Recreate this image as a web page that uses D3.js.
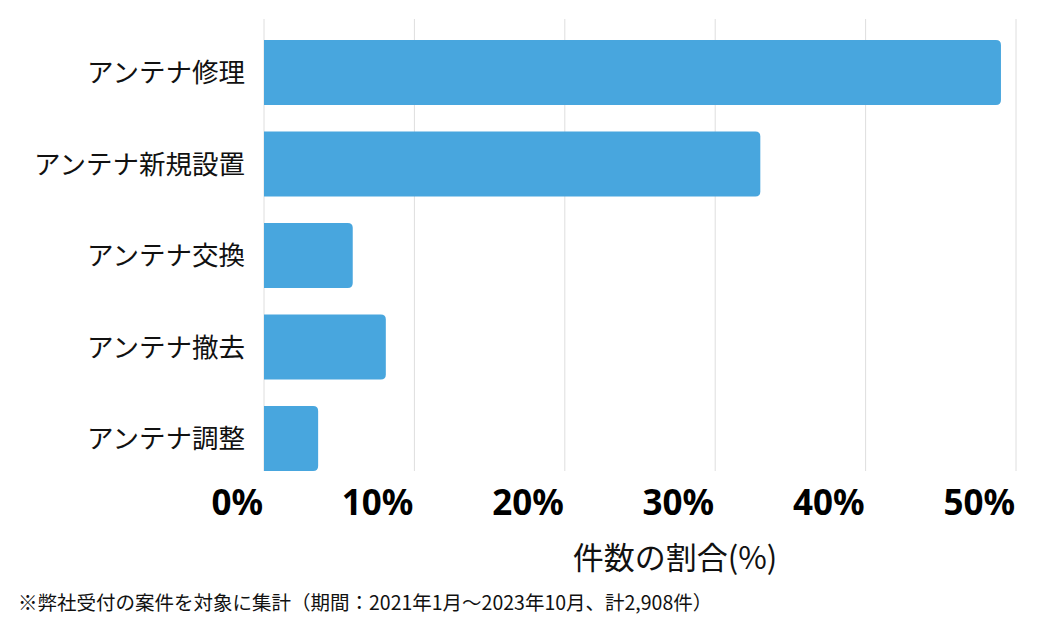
<!DOCTYPE html>
<html><head><meta charset="utf-8">
<script src="https://cdn.jsdelivr.net/npm/d3@7/dist/d3.min.js"></script>
<style>body{margin:0;background:#fff;}svg{display:block;}</style>
</head><body>
<script>
const categories = ["アンテナ修理","アンテナ新規設置","アンテナ交換","アンテナ撤去","アンテナ調整"];
const values = [49.0, 33.0, 5.9, 8.1, 3.6];
const ticks = [0,10,20,30,40,50];
const axisTitle = "件数の割合(%)";
const footnote = "※弊社受付の案件を対象に集計（期間：2021年1月～2023年10月、計2,908件）";

const W=1054,H=629;
const svg=d3.select("body").append("svg").attr("width",W).attr("height",H);
const x=d3.scaleLinear().domain([0,50]).range([264,1016]);
const y=d3.scaleBand().domain(categories).range([26.75,484.25]).paddingInner(0.29).paddingOuter(0.145);
const font='"Noto Sans CJK JP","Noto Sans",sans-serif';

svg.append("g").selectAll("line").data(ticks).join("line")
 .attr("x1",d=>x(d)).attr("x2",d=>x(d)).attr("y1",19).attr("y2",471)
 .attr("stroke","#dedede").attr("stroke-width",1);

function barPath(x0,y0,w,h,r){
  r=Math.min(r,w);
  return `M${x0},${y0}H${x0+w-r}Q${x0+w},${y0} ${x0+w},${y0+r}V${y0+h-r}Q${x0+w},${y0+h} ${x0+w-r},${y0+h}H${x0}Z`;
}
svg.append("g").selectAll("path").data(categories).join("path")
 .attr("d",(c,i)=>barPath(x(0),y(c),x(values[i])-x(0),y.bandwidth(),5))
 .attr("fill","#48a6de");

svg.append("g").selectAll("text").data(categories).join("text")
 .attr("x",245).attr("y",c=>y(c)+y.bandwidth()/2).attr("dy","0.36em")
 .attr("text-anchor","end").attr("font-family",font).attr("font-size",26.5).attr("fill","#111")
 .text(c=>c);

svg.append("g").selectAll("text").data(ticks).join("text")
 .attr("x",d=>x(d)-1).attr("y",515).attr("text-anchor","end")
 .attr("font-family",'"Noto Sans","DejaVu Sans",sans-serif').attr("font-weight","bold")
 .attr("font-size",35).attr("fill","#000").text(d=>d+"%");

svg.append("text").attr("x",675).attr("y",569).attr("text-anchor","middle")
 .attr("font-family",font).attr("font-size",31).attr("fill","#111").text(axisTitle);

svg.append("text").attr("x",18).attr("y",610)
 .attr("font-family",font).attr("font-size",19.5).attr("fill","#111").text(footnote);
</script>
</body></html>
